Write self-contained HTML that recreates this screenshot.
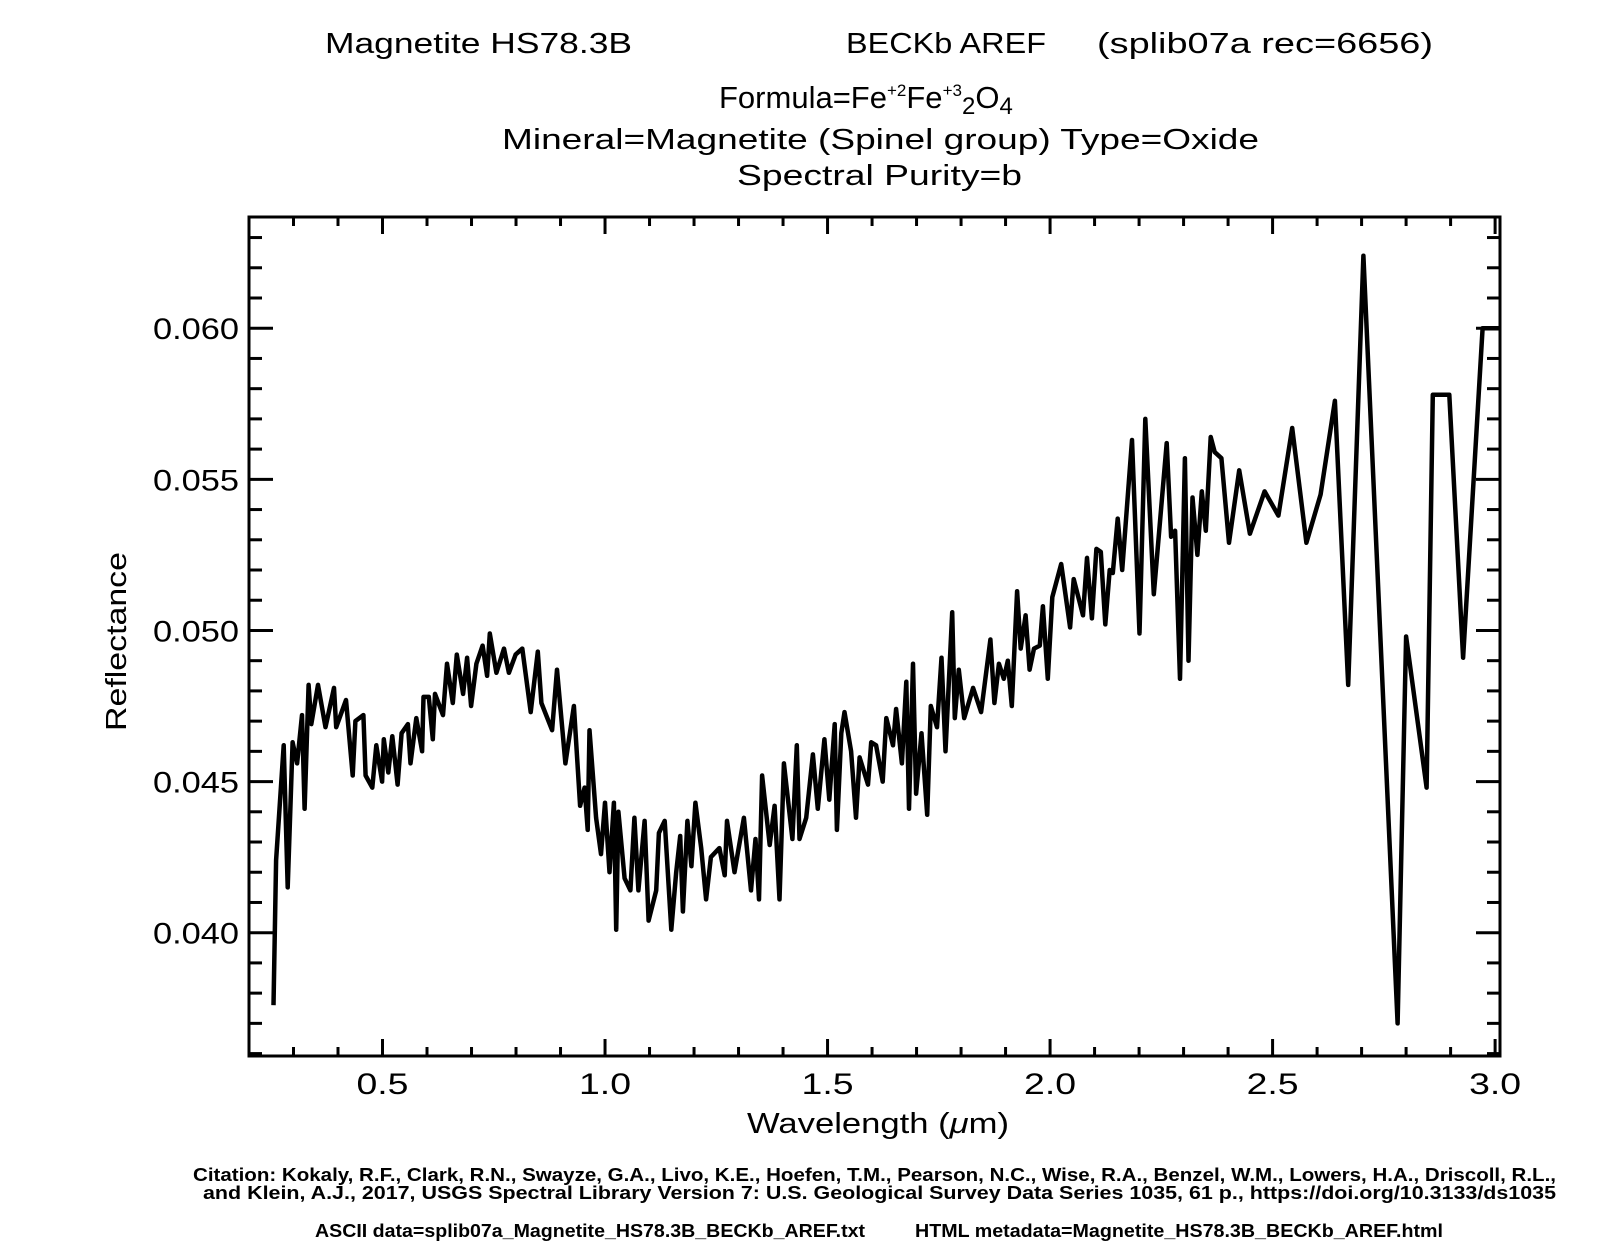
<!DOCTYPE html>
<html><head><meta charset="utf-8"><style>
html,body{margin:0;padding:0;background:#fff;}
svg{display:block;}
text{font-family:"Liberation Sans",sans-serif;fill:#000;}
</style></head><body>
<svg id="chart" width="1610" height="1260" viewBox="0 0 1610 1260" xmlns="http://www.w3.org/2000/svg">
<text x="325" y="53" font-size="29" textLength="307" lengthAdjust="spacingAndGlyphs">Magnetite HS78.3B</text>
<text x="846" y="53" font-size="29" textLength="200" lengthAdjust="spacingAndGlyphs">BECKb AREF</text>
<text x="1097" y="53" font-size="29" textLength="336" lengthAdjust="spacingAndGlyphs">(splib07a rec=6656)</text>
<text x="719" y="108" font-size="31">Formula=Fe<tspan font-size="17" dy="-12">+2</tspan><tspan dy="12">Fe</tspan><tspan font-size="17" dy="-12">+3</tspan><tspan font-size="24" dy="18">2</tspan><tspan dy="-6">O</tspan><tspan font-size="24" dy="6">4</tspan></text>
<text x="502" y="149" font-size="29" textLength="757" lengthAdjust="spacingAndGlyphs">Mineral=Magnetite (Spinel group)  Type=Oxide</text>
<text x="737" y="185" font-size="29" textLength="285" lengthAdjust="spacingAndGlyphs">Spectral Purity=b</text>
<g id="axes"></g>
<path id="curve" fill="none" stroke="#000" stroke-width="4.5" stroke-linejoin="round"/>
<text x="747" y="1133" font-size="29" textLength="262" lengthAdjust="spacingAndGlyphs">Wavelength (<tspan font-style="italic">μ</tspan>m)</text>
<text transform="translate(126,731) rotate(-90)" font-size="29" textLength="179" lengthAdjust="spacingAndGlyphs">Reflectance</text>
<text x="193" y="1181" font-size="18" font-weight="bold" textLength="1363" lengthAdjust="spacingAndGlyphs">Citation: Kokaly, R.F., Clark, R.N., Swayze, G.A., Livo, K.E., Hoefen, T.M., Pearson, N.C., Wise, R.A., Benzel, W.M., Lowers, H.A., Driscoll, R.L.,</text>
<text x="203" y="1199" font-size="18" font-weight="bold" textLength="1353" lengthAdjust="spacingAndGlyphs">and Klein, A.J., 2017, USGS Spectral Library Version 7: U.S. Geological Survey Data Series 1035, 61 p., https://doi.org/10.3133/ds1035</text>
<text x="315" y="1237" font-size="18" font-weight="bold" textLength="550" lengthAdjust="spacingAndGlyphs">ASCII data=splib07a_Magnetite_HS78.3B_BECKb_AREF.txt</text>
<text x="915" y="1237" font-size="18" font-weight="bold" textLength="528" lengthAdjust="spacingAndGlyphs">HTML metadata=Magnetite_HS78.3B_BECKb_AREF.html</text>
</svg>
<script>
const wavelengths = [0.255,0.261,0.278,0.287,0.298,0.308,0.319,0.325,0.334,0.340,0.355,0.372,0.391,0.396,0.418,0.433,0.439,0.457,0.462,0.477,0.486,0.499,0.503,0.513,0.522,0.534,0.543,0.557,0.563,0.576,0.589,0.592,0.604,0.613,0.618,0.636,0.645,0.658,0.667,0.681,0.690,0.699,0.711,0.725,0.735,0.741,0.756,0.773,0.784,0.799,0.814,0.833,0.849,0.857,0.881,0.892,0.911,0.930,0.944,0.954,0.961,0.965,0.980,0.991,1.000,1.010,1.020,1.025,1.030,1.044,1.057,1.066,1.075,1.089,1.098,1.115,1.121,1.134,1.149,1.160,1.169,1.175,1.185,1.194,1.203,1.216,1.227,1.238,1.257,1.269,1.274,1.291,1.312,1.328,1.338,1.346,1.353,1.370,1.381,1.392,1.402,1.421,1.431,1.437,1.452,1.467,1.478,1.493,1.504,1.516,1.521,1.531,1.538,1.553,1.564,1.572,1.591,1.598,1.609,1.624,1.632,1.647,1.654,1.667,1.677,1.683,1.692,1.699,1.711,1.724,1.732,1.746,1.756,1.765,1.780,1.786,1.795,1.807,1.827,1.845,1.866,1.875,1.885,1.896,1.905,1.914,1.926,1.934,1.945,1.954,1.964,1.977,1.984,1.995,2.005,2.025,2.045,2.053,2.074,2.083,2.094,2.104,2.114,2.124,2.134,2.141,2.152,2.162,2.184,2.201,2.214,2.233,2.262,2.272,2.281,2.292,2.303,2.311,2.320,2.331,2.341,2.350,2.361,2.370,2.385,2.402,2.425,2.449,2.482,2.513,2.544,2.576,2.608,2.640,2.670,2.704,2.781,2.800,2.846,2.860,2.897,2.928,2.972,3.008];
const reflectance = [0.0376,0.0424,0.0462,0.0415,0.0463,0.0456,0.0472,0.0441,0.0482,0.0469,0.0482,0.0468,0.0481,0.0468,0.0477,0.0452,0.0470,0.0472,0.0452,0.0448,0.0462,0.0450,0.0464,0.0453,0.0465,0.0449,0.0466,0.0469,0.0456,0.0471,0.0460,0.0478,0.0478,0.0464,0.0479,0.0472,0.0489,0.0476,0.0492,0.0479,0.0491,0.0475,0.0489,0.0495,0.0485,0.0499,0.0486,0.0494,0.0486,0.0492,0.0494,0.0473,0.0493,0.0476,0.0467,0.0487,0.0456,0.0475,0.0442,0.0448,0.0434,0.0467,0.0438,0.0426,0.0443,0.0420,0.0443,0.0401,0.0440,0.0418,0.0414,0.0438,0.0414,0.0437,0.0404,0.0414,0.0433,0.0437,0.0401,0.0420,0.0432,0.0407,0.0437,0.0422,0.0443,0.0428,0.0411,0.0425,0.0428,0.0419,0.0437,0.0420,0.0438,0.0414,0.0431,0.0411,0.0452,0.0429,0.0442,0.0411,0.0456,0.0431,0.0462,0.0431,0.0438,0.0459,0.0441,0.0464,0.0444,0.0469,0.0434,0.0466,0.0473,0.0460,0.0438,0.0458,0.0449,0.0463,0.0462,0.0450,0.0471,0.0462,0.0474,0.0456,0.0483,0.0441,0.0489,0.0446,0.0466,0.0439,0.0475,0.0468,0.0491,0.0460,0.0506,0.0471,0.0487,0.0471,0.0481,0.0473,0.0497,0.0476,0.0489,0.0484,0.0490,0.0475,0.0513,0.0494,0.0505,0.0487,0.0494,0.0495,0.0508,0.0484,0.0511,0.0522,0.0501,0.0517,0.0505,0.0524,0.0504,0.0527,0.0526,0.0502,0.0520,0.0519,0.0537,0.0520,0.0563,0.0499,0.0570,0.0512,0.0562,0.0531,0.0533,0.0484,0.0557,0.0490,0.0544,0.0525,0.0546,0.0533,0.0564,0.0559,0.0557,0.0529,0.0553,0.0532,0.0546,0.0538,0.0567,0.0529,0.0545,0.0576,0.0482,0.0624,0.0370,0.0498,0.0448,0.0578,0.0578,0.0491,0.0600,0.0600];
const xTickLabels = ["0.5","1.0","1.5","2.0","2.5","3.0"];
const yTickLabels = ["0.040","0.045","0.050","0.055","0.060"];

const L=249,R=1500,T=217,B=1056;
const X0=0.2,X1=3.011,Y0=0.03592,Y1=0.06368;
function sx(v){return L+(v-X0)/(X1-X0)*(R-L);}
function sy(v){return B-(v-Y0)/(Y1-Y0)*(B-T);}
const NS="http://www.w3.org/2000/svg";
const g=document.getElementById('axes');
function line(x1,y1,x2,y2,w,name){const e=document.createElementNS(NS,'line');e.setAttribute('x1',x1);e.setAttribute('y1',y1);e.setAttribute('x2',x2);e.setAttribute('y2',y2);e.setAttribute('stroke','#000');e.setAttribute('stroke-width',w);


g.appendChild(e);return e;}
const box=document.createElementNS(NS,'rect');
box.setAttribute('x',L);box.setAttribute('y',T);box.setAttribute('width',R-L);box.setAttribute('height',B-T);
box.setAttribute('fill','none');box.setAttribute('stroke','#000');box.setAttribute('stroke-width','3');


g.appendChild(box);
for(let i=3;i<=30;i++){const v=i/10;const x=sx(v);const major=(i%5===0);const len=major?17:9;
 line(x,B,x,B-len,3,'x-tick');line(x,T,x,T+len,3,'x-tick-top');}
for(let i=36;i<=63;i++){const v=i/1000;const y=sy(v);const major=(i%5===0);const len=major?24:13;
 line(L,y,L+len,y,3,'y-tick');line(R,y,R-len,y,3,'y-tick-right');}
xTickLabels.forEach(s=>{const t=document.createElementNS(NS,'text');t.textContent=s;
 t.setAttribute('x',sx(parseFloat(s))-26);t.setAttribute('y',B+38);t.setAttribute('font-size','30');t.setAttribute('textLength','52');t.setAttribute('lengthAdjust','spacingAndGlyphs');
 
 
 g.appendChild(t);});
yTickLabels.forEach(s=>{const t=document.createElementNS(NS,'text');t.textContent=s;
 t.setAttribute('x',153);t.setAttribute('y',sy(parseFloat(s))+11);t.setAttribute('font-size','30');t.setAttribute('textLength','86');t.setAttribute('lengthAdjust','spacingAndGlyphs');
 
 
 g.appendChild(t);});
let d='';
wavelengths.forEach((w,i)=>{d+=(i?'L':'M')+sx(w).toFixed(1)+','+sy(reflectance[i]).toFixed(1);});
document.getElementById('curve').setAttribute('d',d);
</script>
</body></html>
